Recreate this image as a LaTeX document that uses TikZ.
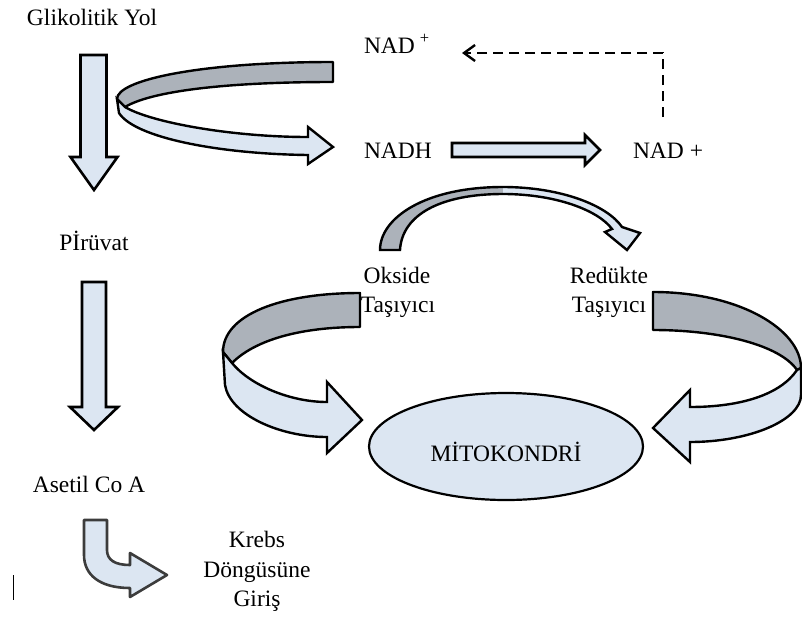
\documentclass[tikz,border=0pt]{standalone}
\usepackage{fontspec}
\setmainfont{Liberation Serif}
\usetikzlibrary{arrows.meta,shapes.geometric}
\definecolor{lb}{RGB}{220,230,242}
\definecolor{gb}{RGB}{172,178,186}
\definecolor{krebsline}{RGB}{60,60,60}
\begin{document}
\begin{tikzpicture}[x=1pt,y=-1pt,
  font=\fontsize{23.5}{28}\selectfont,
  every node/.style={inner sep=0pt, outer sep=0pt},
  lbl/.style={anchor=base},
  lblw/.style={anchor=base west},
  blockarrow/.style={draw=black, line width=2.6pt, fill=lb, line join=miter},
  bandback/.style={draw=black, line width=2.4pt, fill=gb, line join=round},
  bandfront/.style={draw=black, line width=2.4pt, fill=lb, line join=miter},
  dashline/.style={draw=black, line width=2.4pt, dash pattern=on 10pt off 6pt,
     -{Straight Barb[length=11pt,width=16pt,line width=2.4pt]}}]
\useasboundingbox (0,0) rectangle (802,616);

% ---------- texts ----------
\node[lblw] (glik) at (27,25) {Glikolitik Yol};
\node[lblw] (nadtop) at (364,53) {NAD\kern5pt\textsuperscript{+}};
\node[lblw] (nadh) at (364,158) {NADH};
\node[lblw] (nadright) at (633,158) {NAD +};
\node[lbl] (okside) at (397,283) {Okside};
\node[lbl] (oksidet) at (398,312) {Taşıyıcı};
\node[lbl] (redukte) at (609,283) {Redükte};
\node[lbl] (reduktet) at (609,312) {Taşıyıcı};
\node[lbl] (piruvat) at (94,250) {Pİrüvat};
\node[lbl] (asetil) at (89,492) {Asetil Co A};
\node[lbl] (krebs1) at (257,547) {Krebs};
\node[lbl] (krebs2) at (257,577) {Döngüsüne};
\node[lbl] (krebs3) at (257,606) {Giriş};

% ---------- mitochondrion ----------
\node[ellipse, draw=black, line width=2.2pt, fill=lb,
      minimum width=274pt, minimum height=107pt] (mito) at (506,446.5) {};
\node[lbl] (mitotext) at (506,461) {MİTOKONDRİ};

% ---------- straight block arrows ----------
\draw[blockarrow] (80.5,55) -- (106.5,55) -- (106.5,157) -- (117.5,157) -- (94,190)
   -- (70.5,157) -- (80.5,157) -- cycle;
\draw[blockarrow] (82,282) -- (106,282) -- (106,407) -- (118,407) -- (94,430)
   -- (70,407) -- (82,407) -- cycle;
\draw[blockarrow] (452,143) -- (585,143) -- (585,135) -- (600,150) -- (585,165)
   -- (585,157) -- (452,157) -- cycle;

% ---------- dashed return arrow ----------
\coordinate (dstart) at (663,117);
\coordinate (dend) at (462,53);
\draw[dashline] (dstart) |- (dend);

% ---------- top curved arrow (glycolysis -> NADH) ----------
\draw[bandback] (333,62) .. controls (200,62) and (117,80) .. (117,99)
   -- (125,107) .. controls (150,92) and (220,82) .. (333,82) -- cycle;
\draw[bandfront] (117,99) -- (125,107) .. controls (150,122) and (230,137) .. (308,137)
   -- (308,127) -- (333,147) -- (308,164) -- (308,155)
   .. controls (220,154) and (135,138) .. (119,113) -- cycle;

% ---------- oxide -> reduced carrier arc ----------
\fill[gb] (380,250) .. controls (380,218) and (425,187) .. (503,187)
   -- (503,194) .. controls (440,194) and (402,215) .. (400,250) -- cycle;
\fill[lb] (503,187) .. controls (560,187) and (607,205) .. (622,227)
   -- (640,233) -- (627,250) -- (605,232) -- (612,229)
   .. controls (598,210) and (555,194) .. (503,194) -- cycle;
\draw[draw=black, line width=2.4pt, line join=miter]
   (380,250) .. controls (380,218) and (425,187) .. (503,187)
   .. controls (560,187) and (607,205) .. (622,227)
   -- (640,233) -- (627,250) -- (605,232) -- (612,229)
   .. controls (598,210) and (555,194) .. (503,194)
   .. controls (440,194) and (402,215) .. (400,250) -- cycle;

% ---------- left big curved arrow ----------
\draw[bandback] (360,293) .. controls (280,293) and (223,315) .. (223,352)
   -- (232,363) .. controls (255,340) and (300,327) .. (360,327) -- cycle;
\draw[bandfront] (223,352) -- (232,363) .. controls (250,385) and (290,402) .. (327,402)
   -- (327,382) -- (362,420) -- (327,453) -- (327,437)
   .. controls (280,437) and (230,415) .. (225,385) -- cycle;

% ---------- right big curved arrow ----------
\draw[bandback] (653,292) .. controls (740,292) and (801,330) .. (801,368)
   -- (797,370) .. controls (780,345) and (720,330) .. (653,330) -- cycle;
\draw[bandfront] (801,368) -- (797,370) .. controls (780,395) and (740,407) .. (690,407)
   -- (690,390) -- (653,428) -- (690,462) -- (690,442)
   .. controls (750,442) and (801,420) .. (801,395) -- cycle;

% ---------- Krebs entry arrow ----------
\draw[draw=krebsline, line width=2.6pt, line join=round, fill=lb]
   (84,520) -- (107,520) -- (107,550) .. controls (107,560) and (115,565) .. (130,565)
   -- (130,553) -- (167,575) -- (130,597) -- (130,588)
   .. controls (100,588) and (84,575) .. (84,555) -- cycle;

% ---------- text cursor mark ----------
\coordinate (cur1) at (13.5,575);
\coordinate (cur2) at (13.5,600);
\draw[line width=1.3pt] (cur1) -- (cur2);
\end{tikzpicture}
\end{document}
